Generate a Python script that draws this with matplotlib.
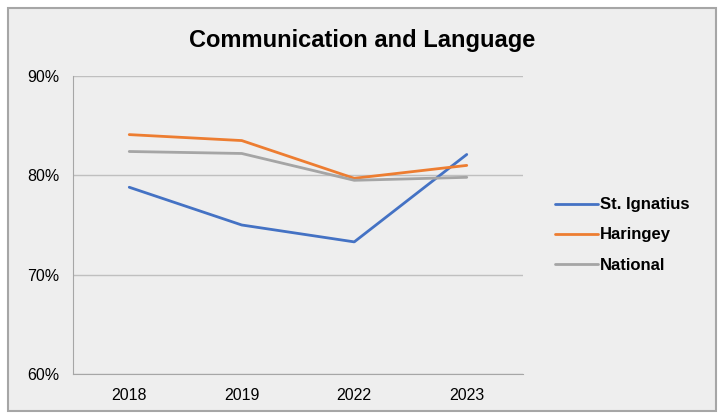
import matplotlib.pyplot as plt
from matplotlib.patches import Rectangle
from matplotlib.ticker import FuncFormatter

plt.rcParams['font.family'] = ['Liberation Sans', 'DejaVu Sans']

years = ['2018', '2019', '2022', '2023']
st_ignatius = [78.8, 75.0, 73.3, 82.1]
haringey = [84.1, 83.5, 79.7, 81.0]
national = [82.4, 82.2, 79.5, 79.8]

fig = plt.figure(figsize=(7.21, 4.17), dpi=100, facecolor='white')
# chart area with border
fig.patches.append(Rectangle((8 / 721, 1 - 411 / 417), 708 / 721, 403 / 417,
                             transform=fig.transFigure, facecolor='#EEEEEE',
                             edgecolor='#A6A6A6', linewidth=1.5, zorder=-10))

ax = fig.add_axes([73 / 721, 1 - 374 / 417, 450 / 721, 298 / 417])
ax.set_facecolor('none')

x = range(len(years))
ax.plot(x, st_ignatius, color='#4472C4', lw=2.0, label='St. Ignatius', solid_capstyle='round')
ax.plot(x, haringey, color='#ED7D31', lw=2.0, label='Haringey', solid_capstyle='round')
ax.plot(x, national, color='#A5A5A5', lw=2.0, label='National', solid_capstyle='round')

ax.set_xlim(-0.5, 3.5)
ax.set_ylim(60, 90)
ax.set_yticks([60, 70, 80, 90])
ax.yaxis.set_major_formatter(FuncFormatter(lambda v, p: '%d%%' % v))
ax.set_xticks(list(x))
ax.set_xticklabels(years)
ax.grid(axis='y', color='#BFBFBF', lw=1.0)
ax.set_axisbelow(True)
for s in ['top', 'right']:
    ax.spines[s].set_visible(False)
ax.spines['left'].set_color('#A6A6A6')
ax.spines['bottom'].set_color('#A6A6A6')
ax.tick_params(length=0, labelsize=11.5, colors='#000000', pad=10)

fig.text(362 / 721, 1 - 40 / 417, 'Communication and Language', ha='center', va='center',
         fontsize=17, fontweight='bold')

fig.legend(loc='center left', bbox_to_anchor=(540 / 721, 1 - 235 / 417), frameon=False,
           prop={'weight': 'bold', 'size': 12}, handlelength=2.6, handletextpad=0.1,
           labelspacing=0.9)

fig.savefig('out.png', dpi=100, facecolor='white')
